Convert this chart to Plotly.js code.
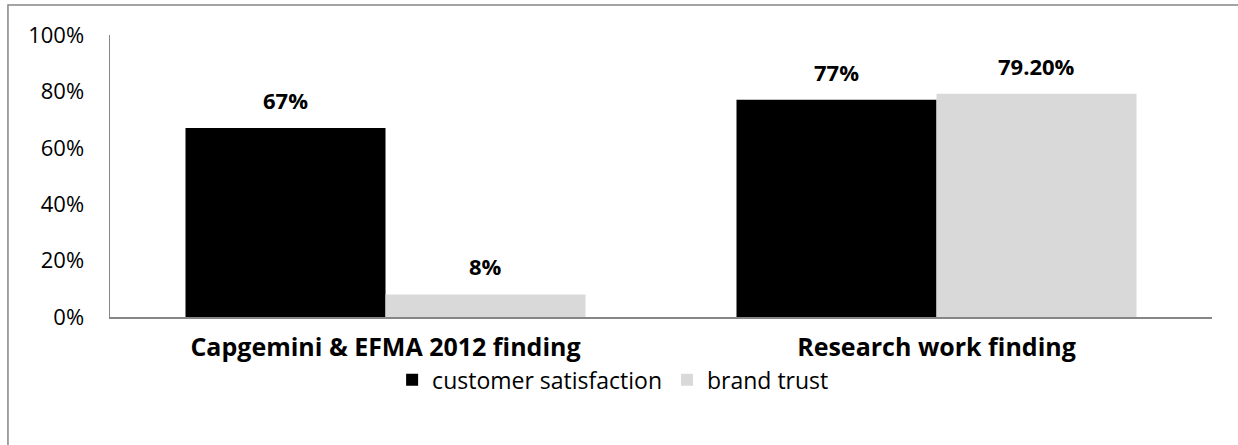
<!DOCTYPE html>
<html>
<head>
<meta charset="utf-8">
<script src="https://cdn.plot.ly/plotly-3.0.1.min.js"></script>
<style>
  html, body { margin: 0; padding: 0; background: #fff; }
  #chart { width: 1238px; height: 445px; }
</style>
</head>
<body>
<div id="chart"></div>
<script>
const categories = ["Capgemini & EFMA 2012 finding", "Research work finding"];
const seriesNames = ["customer satisfaction", "brand trust"];
const customerSatisfaction = [0.67, 0.77];
const brandTrust = [0.08, 0.792];
const customerLabels = ["67%", "77%"];
const brandLabels = ["8%", "79.20%"];
const yTickVals = [0, 0.2, 0.4, 0.6, 0.8, 1.0];

const FONT = "Open Sans, Calibri, sans-serif";
const colors = ["#000000", "#d9d9d9"];
const bargap = 0.274;

const series = [customerSatisfaction, brandTrust];
const labels = [customerLabels, brandLabels];

const traces = series.map((vals, i) => ({
  type: "bar",
  name: seriesNames[i],
  x: categories,
  y: vals,
  marker: { color: colors[i], line: { width: 0 } },
  hoverinfo: "skip"
}));

// Bar value labels, positioned from the group layout (bar width in category units)
const barW = (1 - bargap) / series.length;
const annotations = [];
series.forEach((vals, i) => {
  vals.forEach((v, j) => {
    annotations.push({
      xref: "x", yref: "y",
      x: j + (i - (series.length - 1) / 2) * barW,
      y: v,
      text: "<b>" + labels[i][j] + "</b>",
      showarrow: false,
      yanchor: "middle",
      yshift: 28,
      font: { family: FONT, size: 22, color: "#000" }
    });
  });
});

const layout = {
  width: 1238,
  height: 445,
  margin: { l: 110, r: 26, t: 35, b: 128 },
  paper_bgcolor: "#ffffff",
  plot_bgcolor: "#ffffff",
  barmode: "group",
  bargap: bargap,
  bargroupgap: 0,
  font: { family: FONT, size: 22, color: "#000" },
  showlegend: true,
  legend: {
    orientation: "h",
    x: 0.256, xanchor: "left",
    y: -0.223, yanchor: "middle",
    bgcolor: "rgba(0,0,0,0)",
    font: { family: FONT, size: 23, color: "#000" },
    itemwidth: 30,
    tracegroupgap: 0,
    traceorder: "normal"
  },
  xaxis: {
    type: "category",
    showline: true,
    linecolor: "#868686",
    linewidth: 1.5,
    showgrid: false,
    zeroline: false,
    ticks: "",
    ticklabelstandoff: 7,
    tickfont: { family: FONT, size: 25, color: "#000", weight: "bold" },
    fixedrange: true
  },
  yaxis: {
    range: [0, 1],
    tickvals: yTickVals,
    tickformat: ".0%",
    showline: true,
    linecolor: "#868686",
    linewidth: 1.5,
    showgrid: false,
    zeroline: false,
    ticks: "",
    ticklabelstandoff: 20,
    tickfont: { family: FONT, size: 22, color: "#000" },
    fixedrange: true
  },
  annotations: annotations,
  shapes: [
    {
      type: "path", xref: "paper", yref: "paper",
      path: "M -0.0926,-1 L -0.0926,1.1064 L 1.2,1.1064",
      line: { color: "#868686", width: 1.5 }
    }
  ]
};

Plotly.newPlot("chart", traces, layout, { displayModeBar: false, staticPlot: true });
</script>
</body>
</html>
